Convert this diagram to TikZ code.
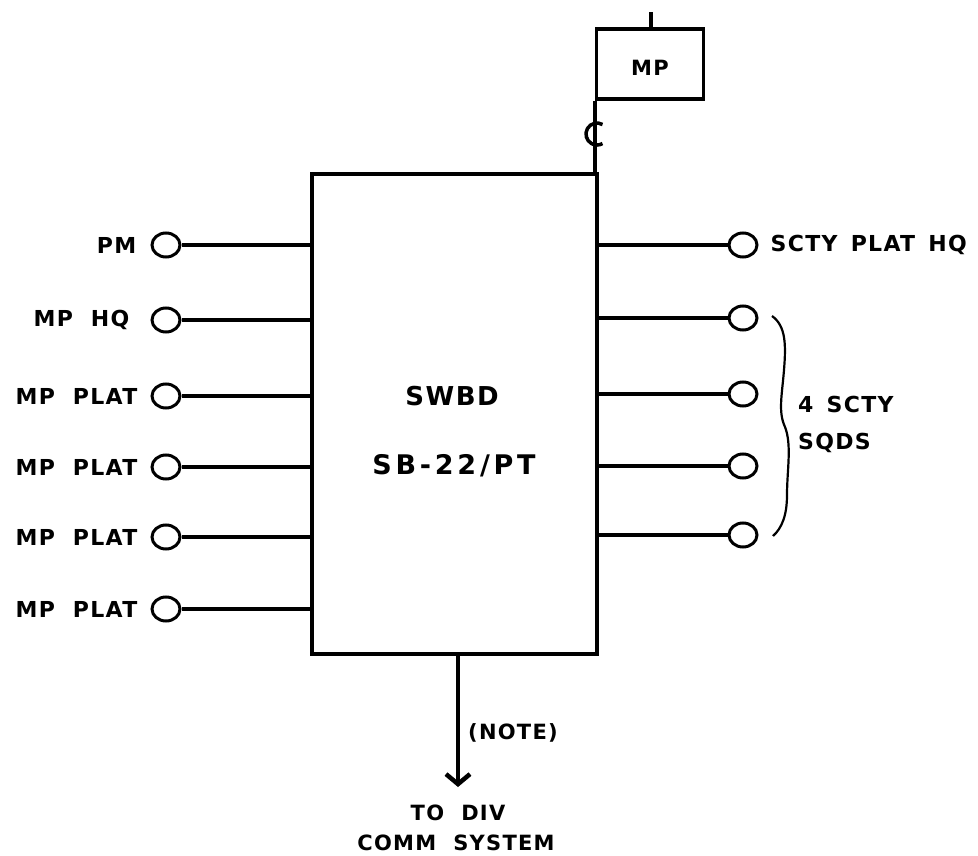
\documentclass[tikz,border=0pt]{standalone}
\usepackage{fontspec}
\setmainfont{DejaVu Sans}[BoldFont={DejaVu Sans Bold}]
\usetikzlibrary{arrows.meta,shapes.geometric}
\newfontfamily\lblfont{DejaVu Sans Bold}[LetterSpace=6]
\newfontfamily\widefont{DejaVu Sans Bold}[LetterSpace=14]
\begin{document}
\begin{tikzpicture}[x=1pt,y=-1pt,
  wire/.style={line width=3.2pt},
  jack/.style={ellipse,draw,line width=3pt,minimum width=28pt,minimum height=24pt,inner sep=0pt},
  lbl/.style={font=\lblfont\fontsize{22}{26}\selectfont,inner sep=0pt},
  midlbl/.style={font=\lblfont\fontsize{21}{25}\selectfont,inner sep=0pt},
  biglbl/.style={font=\lblfont\fontsize{26}{30}\selectfont,inner sep=0pt},
  boxst/.style={draw,line width=3.2pt,inner sep=0pt}]
\useasboundingbox (0,0) rectangle (978,856);
% main switchboard
\node[boxst,minimum width=285pt,minimum height=480pt] (sw) at (454.5,414) {};
\node[biglbl] (t1) at (452,396) {SWBD};
\node[font=\widefont\fontsize{27}{31}\selectfont,inner sep=0pt] (t2) at (454,466) {SB-22/PT};
% MP box
\node[boxst,minimum width=107pt,minimum height=70pt] (mp) at (650,64) {};
\node[midlbl] (mpt) at (650,68) {MP};
\coordinate (mptop) at (651,12);
\draw[wire] (mp.north -| mptop) -- (mptop);
\draw[wire] (mp.south west) -- (mp.south west |- sw.north);
\draw[line width=3.5pt] (602.5,124.5) arc[start angle=-60,end angle=-300,radius=11];
% left jacks
\foreach \n/\y in {1/245,2/320,3/396,4/467,5/537,6/609}{
  \node[jack] (L\n) at (166,\y) {};
  \draw[wire] (L\n.east) -- (L\n.east -| sw.west);
}
\node[lbl,anchor=east] (lp1) at ([xshift=-14pt]L1.west) {PM};
\node[lbl,anchor=east] (lp2) at ([xshift=-21pt]L2.west) {MP~~HQ};
\foreach \n in {3,4,5,6}{
  \node[lbl,anchor=east] (lp\n) at ([xshift=-13pt]L\n.west) {MP~~PLAT};
}
% right jacks
\foreach \n/\y in {1/245,2/318,3/394,4/466,5/535}{
  \node[jack] (R\n) at (743,\y) {};
  \draw[wire] (R\n.west) -- (R\n.west -| sw.east);
}
\node[lbl,anchor=west] (rp1) at ([xshift=12pt]R1.east) {SCTY\hspace{0.6em}PLAT\hspace{0.6em}HQ};
% brace
\draw[line width=2.2pt] (772,316) .. controls (786,326) and (786,345) .. (784,370)
  .. controls (782,395) and (778,412) .. (785,427)
  .. controls (792,445) and (787,470) .. (787,495)
  .. controls (787,515) and (782,528) .. (773,536);
\node[lbl,anchor=west] (sq1) at (798,404) {4\hspace{0.6em}SCTY};
\node[lbl,anchor=west] (sq2) at (798,443) {SQDS};
% output
\node[midlbl] (td) at (458,813) {TO~~DIV};
\node[midlbl] (cs) at (456,843) {COMM~~SYSTEM};
\coordinate (tip) at (458,787);
\draw[wire,-{Straight Barb[length=10pt,width=24pt,line width=4.5pt]}] (sw.south -| tip) -- (tip);
\node[midlbl,anchor=west] (note) at (468,733) {(NOTE)};
\end{tikzpicture}
\end{document}
